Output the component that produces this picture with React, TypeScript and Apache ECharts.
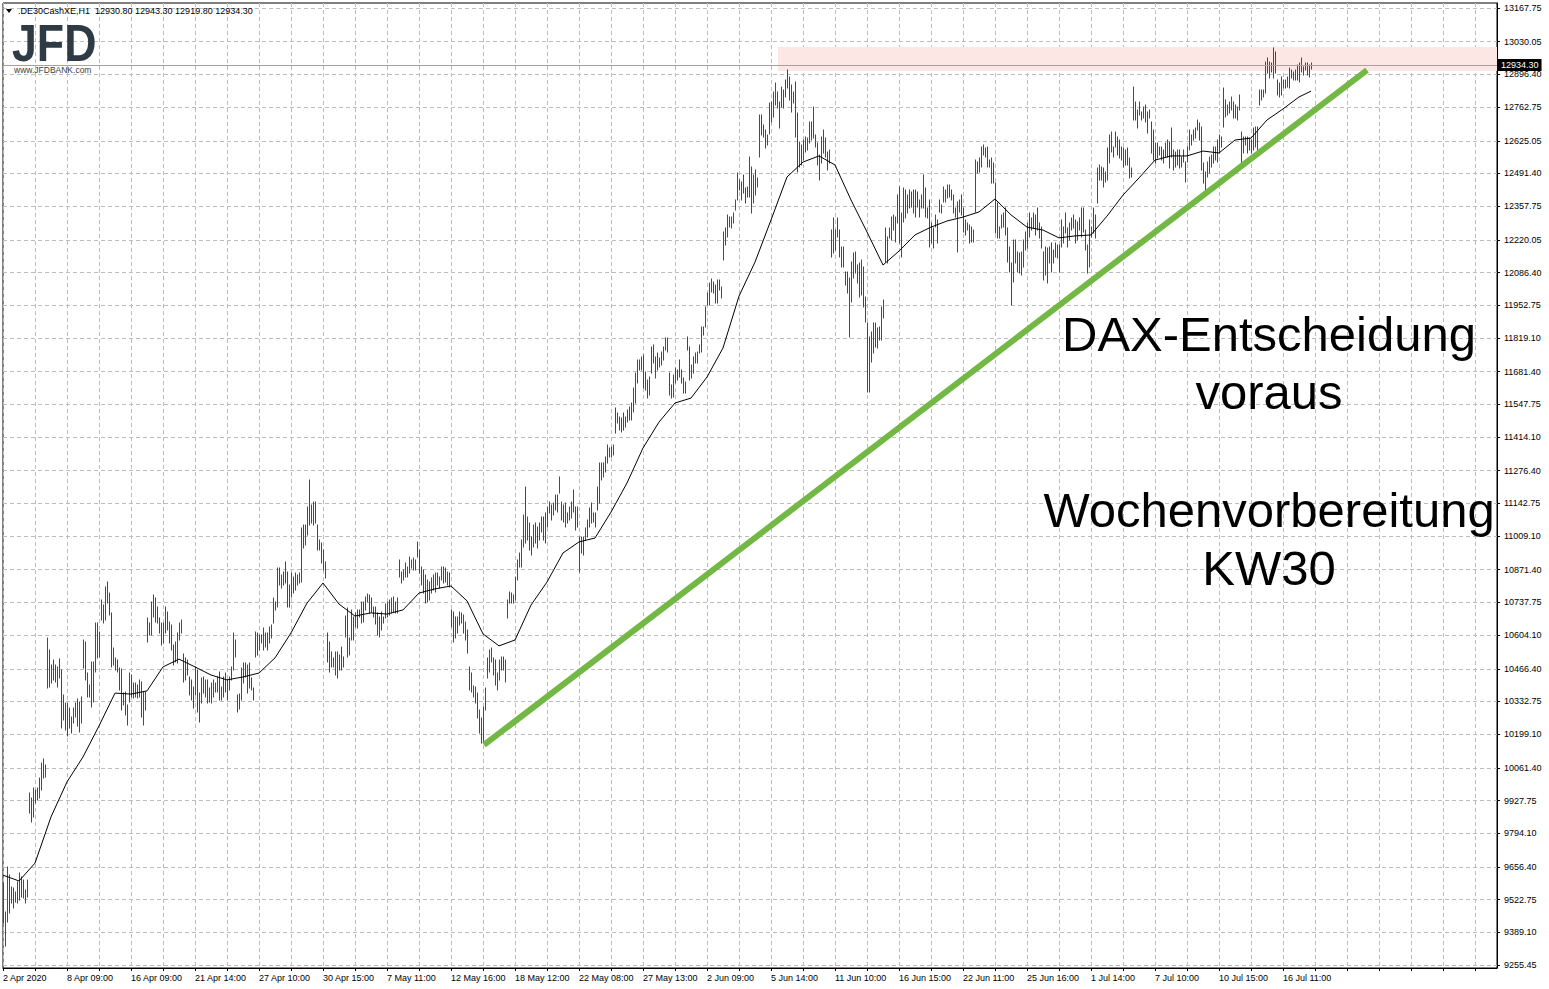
import React, { useEffect, useRef } from "react";
import * as echarts from "echarts";

const FONT = "'Liberation Sans', Arial, Helvetica, sans-serif";

// time-axis labels, one every 32 hourly bars
const xLabels = ["2 Apr 2020", "8 Apr 09:00", "16 Apr 09:00", "21 Apr 14:00", "27 Apr 10:00", "30 Apr 15:00", "7 May 11:00", "12 May 16:00", "18 May 12:00", "22 May 08:00", "27 May 13:00", "2 Jun 09:00", "5 Jun 14:00", "11 Jun 10:00", "16 Jun 15:00", "22 Jun 11:00", "25 Jun 16:00", "1 Jul 14:00", "7 Jul 10:00", "10 Jul 15:00", "16 Jul 11:00"];

// price-axis labels
const yTicks = [13167.75, 13030.05, 12896.4, 12762.75, 12625.05, 12491.4, 12357.75, 12220.05, 12086.4, 11952.75, 11819.1, 11681.4, 11547.75, 11414.1, 11276.4, 11142.75, 11009.1, 10871.4, 10737.75, 10604.1, 10466.4, 10332.75, 10199.1, 10061.4, 9927.75, 9794.1, 9656.4, 9522.75, 9389.1, 9255.45];

// hourly bars: highs, lows, direction (u = up / green, d = down / red)
const highs = [
  9590, 9472, 9656, 9623, 9574, 9570, 9553, 9594, 9631, 9615,
  9603, 9562, 9603, 9958, 9938, 9979, 9971, 9979, 10020, 10081,
  10097, 10073, 10592, 10543, 10482, 10502, 10482, 10474, 10506, 10461,
  10359, 10326, 10326, 10306, 10269, 10306, 10326, 10343, 10330, 10351,
  10584, 10576, 10449, 10400, 10494, 10494, 10653, 10653, 10617, 10747,
  10727, 10800, 10821, 10776, 10694, 10551, 10510, 10502, 10470, 10465,
  10367, 10371, 10318, 10449, 10441, 10408, 10408, 10400, 10420, 10412,
  10371, 10371, 10674, 10653, 10739, 10768, 10755, 10719, 10674, 10653,
  10653, 10719, 10698, 10657, 10645, 10563, 10576, 10612, 10653, 10666,
  10527, 10510, 10502, 10433, 10420, 10392, 10474, 10461, 10367, 10429,
  10433, 10420, 10420, 10388, 10408, 10420, 10408, 10433, 10453, 10392,
  10433, 10449, 10420, 10433, 10474, 10612, 10584, 10359, 10363, 10470,
  10490, 10490, 10482, 10490, 10429, 10388, 10617, 10612, 10604, 10604,
  10633, 10612, 10612, 10637, 10645, 10755, 10739, 10878, 10878, 10850,
  10862, 10903, 10862, 10809, 10858, 10841, 10858, 10850, 10858, 11042,
  11054, 11054, 11128, 11238, 11136, 11148, 11148, 11054, 10993, 10980,
  10952, 10903, 10612, 10576, 10535, 10510, 10535, 10535, 10523, 10555,
  10514, 10682, 10715, 10592, 10706, 10678, 10694, 10706, 10706, 10739,
  10739, 10760, 10772, 10768, 10755, 10719, 10719, 10694, 10678, 10698,
  10678, 10731, 10739, 10747, 10755, 10760, 10739, 10755, 10911, 10862,
  10870, 10899, 10882, 10923, 10911, 10919, 10911, 10985, 10952, 10882,
  10870, 10850, 10829, 10821, 10837, 10850, 10858, 10858, 10841, 10882,
  10882, 10878, 10862, 10858, 10706, 10698, 10678, 10678, 10698, 10694,
  10686, 10657, 10625, 10474, 10449, 10396, 10392, 10367, 10298, 10265,
  10310, 10388, 10510, 10543, 10551, 10510, 10502, 10449, 10502, 10514,
  10514, 10502, 10747, 10780, 10776, 10768, 10841, 10911, 10940, 10993,
  11095, 11209, 11087, 11062, 11005, 11054, 11062, 11046, 11062, 11087,
  11087, 11103, 11128, 11148, 11136, 11144, 11177, 11177, 11250, 11148,
  11136, 11144, 11103, 11128, 11148, 11197, 11128, 11128, 11005, 11005,
  11005, 11042, 11074, 11124, 11144, 11103, 11103, 11209, 11307, 11307,
  11307, 11332, 11381, 11369, 11373, 11381, 11532, 11512, 11496, 11492,
  11512, 11496, 11524, 11536, 11553, 11614, 11675, 11729, 11729, 11741,
  11749, 11680, 11647, 11659, 11782, 11790, 11741, 11757, 11737, 11762,
  11782, 11819, 11819, 11675, 11626, 11667, 11696, 11688, 11729, 11688,
  11655, 11639, 11823, 11782, 11708, 11741, 11757, 11762, 11790, 11864,
  11864, 11946, 12003, 12044, 12060, 12048, 12036, 12056, 12056, 12027,
  12250, 12268, 12321, 12313, 12313, 12330, 12383, 12493, 12465, 12456,
  12485, 12432, 12436, 12559, 12518, 12485, 12505, 12473, 12730, 12730,
  12689, 12669, 12648, 12779, 12783, 12824, 12861, 12824, 12783, 12845,
  12833, 12873, 12914, 12886, 12853, 12824, 12865, 12738, 12620, 12608,
  12628, 12640, 12636, 12702, 12702, 12763, 12648, 12616, 12567, 12640,
  12669, 12636, 12579, 12587, 12260, 12309, 12260, 12309, 12260, 12191,
  12191, 12088, 12088, 12064, 12130, 12166, 12170, 12117, 12126, 12138,
  12109, 11986, 11880, 11823, 11843, 11880, 11880, 11860, 11864, 11946,
  11974, 12268, 12232, 12268, 12313, 12321, 12313, 12403, 12436, 12330,
  12432, 12424, 12403, 12424, 12416, 12424, 12424, 12416, 12383, 12403,
  12485, 12432, 12350, 12383, 12289, 12268, 12321, 12301, 12383, 12362,
  12436, 12424, 12444, 12444, 12424, 12403, 12350, 12375, 12383, 12403,
  12350, 12301, 12289, 12281, 12272, 12260, 12546, 12538, 12554, 12599,
  12608, 12595, 12599, 12546, 12554, 12534, 12452, 12371, 12272, 12321,
  12330, 12350, 12268, 12191, 12126, 12219, 12219, 12170, 12166, 12170,
  12219, 12252, 12289, 12330, 12309, 12330, 12321, 12350, 12289, 12272,
  12170, 12191, 12187, 12191, 12207, 12178, 12207, 12199, 12199, 12301,
  12272, 12330, 12268, 12289, 12309, 12321, 12301, 12293, 12309, 12350,
  12350, 12260, 12199, 12301, 12272, 12350, 12321, 12514, 12526, 12518,
  12514, 12497, 12595, 12648, 12661, 12599, 12661, 12640, 12628, 12599,
  12595, 12587, 12595, 12554, 12514, 12845, 12783, 12751, 12783, 12743,
  12763, 12771, 12743, 12751, 12702, 12669, 12616, 12616, 12599, 12599,
  12587, 12616, 12628, 12620, 12677, 12587, 12579, 12587, 12587, 12559,
  12587, 12538, 12599, 12669, 12648, 12669, 12677, 12710, 12698, 12681,
  12534, 12497, 12538, 12559, 12567, 12599, 12599, 12628, 12648, 12640,
  12841, 12792, 12771, 12783, 12804, 12783, 12771, 12763, 12812, 12661,
  12640, 12640, 12640, 12636, 12628, 12677, 12681, 12681, 12833, 12833,
  12833, 12947, 12963, 12947, 12943, 13004, 12988, 12873, 12861, 12886,
  12873, 12873, 12886, 12922, 12914, 12906, 12914, 12935, 12943, 12963,
  12927, 12943, 12943, 12935, 12943.3
];

const lows = [
  9427, 9333, 9431, 9468, 9508, 9488, 9512, 9508, 9521, 9533,
  9529, 9508, 9533, 9877, 9840, 9860, 9917, 9930, 9938, 9971,
  10020, 10024, 10388, 10392, 10408, 10420, 10412, 10392, 10428, 10224,
  10257, 10216, 10191, 10224, 10204, 10245, 10269, 10233, 10208, 10245,
  10470, 10420, 10351, 10351, 10310, 10330, 10453, 10510, 10514, 10666,
  10653, 10666, 10735, 10686, 10474, 10482, 10461, 10453, 10379, 10298,
  10318, 10277, 10237, 10330, 10351, 10347, 10351, 10347, 10351, 10269,
  10237, 10298, 10576, 10604, 10604, 10678, 10657, 10653, 10612, 10563,
  10571, 10612, 10625, 10571, 10543, 10482, 10494, 10490, 10584, 10612,
  10412, 10420, 10441, 10359, 10338, 10306, 10359, 10290, 10249, 10326,
  10367, 10351, 10326, 10330, 10326, 10351, 10371, 10371, 10339, 10339,
  10351, 10371, 10339, 10379, 10420, 10461, 10514, 10290, 10302, 10339,
  10408, 10433, 10367, 10388, 10379, 10339, 10514, 10523, 10543, 10571,
  10543, 10555, 10543, 10571, 10592, 10653, 10706, 10719, 10809, 10796,
  10809, 10817, 10719, 10719, 10760, 10776, 10788, 10809, 10817, 10821,
  10960, 10972, 11013, 11054, 11062, 11054, 11062, 10952, 10952, 10899,
  10870, 10837, 10494, 10453, 10474, 10474, 10441, 10429, 10461, 10461,
  10474, 10596, 10514, 10523, 10584, 10584, 10637, 10633, 10678, 10653,
  10657, 10706, 10739, 10694, 10698, 10678, 10649, 10604, 10596, 10625,
  10653, 10674, 10678, 10686, 10694, 10698, 10694, 10694, 10841, 10817,
  10829, 10841, 10841, 10858, 10878, 10870, 10870, 10923, 10858, 10809,
  10776, 10735, 10739, 10747, 10776, 10788, 10780, 10809, 10796, 10829,
  10817, 10821, 10809, 10800, 10637, 10576, 10592, 10612, 10645, 10653,
  10612, 10584, 10531, 10379, 10371, 10351, 10326, 10265, 10204, 10163,
  10167, 10298, 10429, 10453, 10494, 10441, 10400, 10379, 10420, 10461,
  10461, 10412, 10674, 10735, 10735, 10735, 10747, 10829, 10882, 10882,
  10964, 10980, 10993, 10952, 10931, 10964, 10980, 10960, 10993, 11025,
  10993, 10980, 11046, 11103, 11074, 11095, 11115, 11107, 11185, 11074,
  11066, 11046, 11062, 11074, 11083, 11107, 11034, 11046, 10862, 10940,
  10931, 10993, 11005, 11046, 11062, 11066, 11046, 11115, 11144, 11238,
  11250, 11271, 11307, 11332, 11332, 11340, 11430, 11471, 11442, 11434,
  11442, 11455, 11475, 11483, 11483, 11516, 11553, 11635, 11688, 11688,
  11614, 11606, 11573, 11585, 11675, 11716, 11655, 11688, 11700, 11708,
  11729, 11770, 11762, 11585, 11573, 11577, 11635, 11647, 11659, 11635,
  11594, 11594, 11770, 11647, 11655, 11675, 11716, 11716, 11757, 11762,
  11831, 11864, 11954, 11954, 12007, 12003, 11962, 11962, 12015, 11982,
  12138, 12199, 12232, 12272, 12268, 12289, 12342, 12383, 12424, 12383,
  12411, 12370, 12395, 12395, 12330, 12370, 12403, 12436, 12559, 12648,
  12640, 12595, 12607, 12652, 12702, 12722, 12771, 12759, 12677, 12763,
  12759, 12804, 12841, 12792, 12743, 12779, 12640, 12497, 12518, 12526,
  12546, 12579, 12587, 12616, 12628, 12636, 12600, 12526, 12465, 12534,
  12575, 12559, 12505, 12534, 12150, 12166, 12178, 12232, 12150, 12109,
  12109, 12035, 12003, 11823, 11966, 12064, 12084, 12044, 11986, 11994,
  11946, 11884, 11598, 11598, 11720, 11757, 11782, 11778, 11810, 11810,
  11900, 12130, 12126, 12228, 12219, 12260, 12211, 12289, 12207, 12150,
  12293, 12309, 12330, 12350, 12354, 12330, 12313, 12354, 12313, 12350,
  12350, 12313, 12309, 12191, 12207, 12187, 12272, 12207, 12334, 12330,
  12375, 12375, 12391, 12395, 12383, 12330, 12313, 12170, 12334, 12321,
  12252, 12240, 12260, 12207, 12211, 12211, 12334, 12493, 12497, 12518,
  12567, 12559, 12518, 12518, 12452, 12452, 12248, 12228, 12228, 12268,
  12272, 12240, 12130, 12088, 11954, 12048, 12126, 12088, 12084, 12076,
  12109, 12178, 12187, 12232, 12260, 12268, 12240, 12260, 12228, 12187,
  12056, 12076, 12044, 12126, 12088, 12126, 12150, 12146, 12088, 12191,
  12207, 12248, 12191, 12219, 12260, 12268, 12207, 12219, 12260, 12232,
  12252, 12178, 12084, 12109, 12232, 12248, 12228, 12370, 12465, 12465,
  12436, 12456, 12465, 12534, 12579, 12559, 12599, 12567, 12554, 12546,
  12518, 12526, 12526, 12473, 12477, 12710, 12710, 12677, 12730, 12710,
  12718, 12702, 12657, 12718, 12575, 12546, 12534, 12554, 12567, 12546,
  12534, 12559, 12559, 12514, 12559, 12505, 12518, 12526, 12514, 12518,
  12538, 12456, 12538, 12587, 12608, 12628, 12636, 12669, 12628, 12505,
  12452, 12411, 12477, 12493, 12518, 12534, 12546, 12538, 12575, 12599,
  12681, 12722, 12730, 12739, 12751, 12718, 12718, 12710, 12751, 12534,
  12575, 12608, 12575, 12587, 12575, 12587, 12599, 12587, 12771, 12792,
  12804, 12820, 12902, 12882, 12906, 12882, 12902, 12812, 12804, 12812,
  12841, 12841, 12845, 12841, 12882, 12873, 12873, 12873, 12865, 12906,
  12894, 12914, 12894, 12886, 12919.8
];

const dirs =
  "duudddudud" + "dduududuuu" + "duuddududd" + "udduduuduu" + "udduduuduu" +
  "dudddudddd" + "udduddudud" + "uudduudddd" + "uddddduuuu" + "dddddduddu" +
  "duduuuuudu" + "duduuudddu" + "ududddudud" + "udduuududu" + "dddduuuduu" +
  "duuduudddd" + "ddddududud" + "duduuduuuu" + "duuddududd" + "duuduududd" +
  "uuuuuuuddd" + "dduuuuuddu" + "dduddduudd" + "uddddudddd" + "uuuuudduud" +
  "ddudduuuuu" + "ududduddud" + "duuududdud" + "duduudduuu" + "duuududduu" +
  "uuuddududd" + "duuuduuuuu" + "dddudduduu" + "uuudduuudd" + "dddduuuuuu" +
  "duuuuddudd" + "uuuuuuuuuu" + "dddududdud" + "dduuuuuudd" + "ddddddddud" +
  "uuuuuudddu" + "uddududddu" + "ddduuududu" + "dddududddu" + "ududuudddu" +
  "uuuddudddu" + "uddddduddd" + "uuudddduud" + "ddudduuduu" + "uddduddduu" +
  "uddddduuuu" + "uuudududdd" + "uuuudddddu" + "uddududuuu" + "duuuddduud" +
  "dduuuddddu" + "duddduddud" + "uddudduudd" + "duududdudd" + "uduuduuudd" +
  "duuuududud" + "dduuuduuud" + "uuddduuudu" + "uudududduu" + "uuuudduddu" +
  "duduu";

// 20-period moving average, read every 8 bars
const maBars = [
  0, 8, 16, 24, 32, 40, 48, 56, 64, 72,
  80, 88, 96, 104, 112, 120, 128, 136, 144, 152,
  160, 168, 176, 184, 192, 200, 208, 216, 224, 232,
  240, 248, 256, 264, 272, 280, 288, 296, 304, 312,
  320, 328, 336, 344, 352, 360, 368, 376, 384, 392,
  400, 408, 416, 424, 432, 440, 448, 456, 464, 472,
  480, 488, 496, 504, 512, 520, 528, 536, 544, 552,
  560, 568, 576, 584, 592, 600, 608, 616, 624, 632,
  640, 648, 654
];
const maValues = [
  9623, 9599, 9672, 9861, 10004, 10106, 10233, 10367, 10363, 10376,
  10474, 10506, 10474, 10441, 10421, 10433, 10449, 10511, 10613, 10735,
  10817, 10731, 10682, 10695, 10690, 10707, 10776, 10793, 10805, 10744,
  10609, 10560, 10584, 10727, 10821, 10940, 10985, 11001, 11107, 11226,
  11369, 11475, 11553, 11573, 11659, 11778, 11990, 12129, 12301, 12477,
  12538, 12563, 12526, 12383, 12252, 12117, 12174, 12240, 12272, 12297,
  12313, 12334, 12387, 12322, 12272, 12260, 12228, 12236, 12240, 12317,
  12403, 12473, 12546, 12563, 12563, 12583, 12575, 12628, 12636, 12710,
  12755, 12804, 12828
];

const lastPrice = 12934.3;
const zoneStartBar = 387.5;
const zonePrices = [12910, 13008];
const trendBars = [240.5, 682];
const trendPrices = [10155, 12914];

const headerText = ".DE30CashXE,H1  12930.80 12943.30 12919.80 12934.30";
const noteLines = ["DAX-Entscheidung", "voraus", "Wochenvorbereitung", "KW30"];

export default function App() {
  const ref = useRef<HTMLDivElement>(null);

  useEffect(() => {
    if (!ref.current) return;
    const chart = echarts.init(ref.current, null, { renderer: "svg" });

    const bars = highs.map((h, i) => [i, lows[i], h, dirs[i] === "u" ? 1 : 0]);
    const ma = maBars.map((b, k) => [b, maValues[k]]);
    const trend = trendBars.map((b, k) => [b, trendPrices[k]]);

    const noteY = [334, 392, 510, 568];

    chart.setOption({
      animation: false,
      backgroundColor: "#ffffff",
      grid: {
        left: 3,
        right: 52,
        top: 3,
        bottom: 21,
        show: true,
        borderColor: "#000",
        borderWidth: 1,
        backgroundColor: "transparent",
        containLabel: false,
        outerBoundsMode: "none",
      },
      xAxis: {
        type: "value",
        min: 0,
        max: 747,
        interval: 16,
        position: "bottom",
        axisLine: { show: true, onZero: false, lineStyle: { color: "#000", width: 1 } },
        axisTick: { show: true, length: 3, lineStyle: { color: "#000" } },
        axisLabel: {
          formatter: (v: number) => (v % 32 === 0 && xLabels[v / 32] ? xLabels[v / 32] : ""),
          align: "left",
          color: "#000",
          fontSize: 9,
          fontFamily: FONT,
          margin: 5,
          showMaxLabel: false,
        },
        splitLine: { show: true, lineStyle: { color: "#bdbdbd", width: 1, type: [4, 3] } },
      },
      yAxis: {
        type: "value",
        position: "right",
        min: 9243.2,
        max: 13188.2,
        axisLine: { show: true, onZero: false, lineStyle: { color: "#000", width: 1 } },
        axisTick: { show: true, length: 3, customValues: yTicks, lineStyle: { color: "#000" } },
        axisLabel: {
          customValues: yTicks,
          formatter: (v: number) => v.toFixed(2),
          color: "#000",
          fontSize: 9,
          fontFamily: FONT,
          margin: 7,
        },
        splitLine: { show: true, lineStyle: { color: "#bdbdbd", width: 1, type: [4, 3] } },
      },
      series: [
        {
          type: "line",
          name: "zone",
          data: [],
          z: 1,
          silent: true,
          markArea: {
            silent: true,
            itemStyle: { color: "#fde7e5" },
            data: [[{ xAxis: zoneStartBar, yAxis: zonePrices[1] }, { xAxis: 747, yAxis: zonePrices[0] }]],
          },
          markLine: {
            silent: true,
            symbol: "none",
            lineStyle: { color: "#a8a0a0", width: 1, type: "solid" },
            label: {
              show: true,
              position: "end",
              distance: 1,
              formatter: lastPrice.toFixed(2),
              backgroundColor: "#000",
              color: "#fff",
              fontSize: 9,
              fontFamily: FONT,
              padding: [2, 3, 1, 3],
            },
            data: [{ yAxis: lastPrice }],
          },
        },
        {
          type: "custom",
          name: "bars",
          z: 2,
          silent: true,
          data: bars,
          encode: { x: 0, y: [1, 2] },
          renderItem: (_params: any, api: any) => {
            const i = api.value(0);
            const p1 = api.coord([i, api.value(1)]);
            const p2 = api.coord([i, api.value(2)]);
            const x = Math.round(p1[0]) + 0.5;
            return {
              type: "line",
              shape: { x1: x, y1: Math.round(p1[1]) + 0.5, x2: x, y2: Math.round(p2[1]) - 0.5 },
              style: { stroke: api.value(3) ? "#008000" : "#ee0000", lineWidth: 1 },
            };
          },
        },
        {
          type: "line",
          name: "ma",
          data: ma,
          z: 3,
          silent: true,
          symbol: "none",
          showSymbol: false,
          lineStyle: { color: "#000", width: 1 },
        },
        {
          type: "line",
          name: "trend",
          data: trend,
          z: 4,
          silent: true,
          symbol: "none",
          showSymbol: false,
          lineStyle: { color: "#73b744", width: 6 },
        },
      ],
      graphic: [
        {
          type: "polygon",
          shape: { points: [[6, 9], [12, 9], [9, 13]] },
          style: { fill: "#000" },
          z: 10,
        },
        {
          type: "text",
          x: 18,
          y: 11,
          z: 10,
          style: { text: headerText, fontSize: 9, fontFamily: FONT, fill: "#000", verticalAlign: "middle" },
        },
        {
          type: "text",
          x: 12,
          y: 43,
          scaleX: 0.86,
          z: 10,
          style: { text: "JFD", fontSize: 52, fontWeight: "bold", fontFamily: FONT, fill: "#2e3a44", verticalAlign: "middle" },
        },
        {
          type: "text",
          x: 14,
          y: 70,
          z: 10,
          style: { text: "www.JFDBANK.com", fontSize: 8.5, fontFamily: FONT, fill: "#3d3d3d", verticalAlign: "middle" },
        },
        ...noteLines.map((t, k) => ({
          type: "text",
          x: 1269,
          y: noteY[k],
          z: 10,
          style: { text: t, fontSize: 49, fontFamily: FONT, fill: "#000", align: "center", verticalAlign: "middle" },
        })),
      ],
    });

    return () => chart.dispose();
  }, []);

  return (
    <div
      ref={ref}
      style={{ position: "fixed", left: 0, top: 0, width: 1549, height: 989, background: "#fff" }}
    />
  );
}
